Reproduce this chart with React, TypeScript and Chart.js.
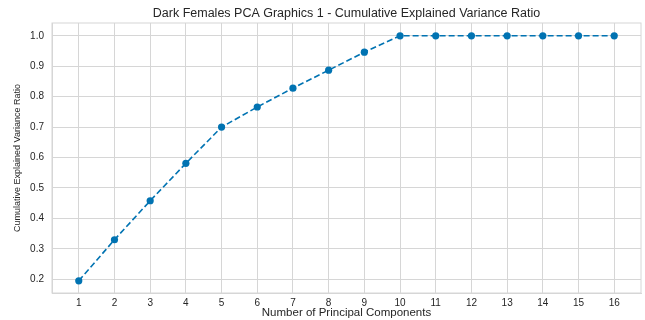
import React, { useEffect, useRef } from "react";
import { Chart, registerables } from "chart.js";

Chart.register(...registerables);

const components = [1, 2, 3, 4, 5, 6, 7, 8, 9, 10, 11, 12, 13, 14, 15, 16];
const cumulativeRatio = [0.195, 0.33, 0.458, 0.581, 0.7, 0.766, 0.828, 0.887, 0.946, 1.0, 1.0, 1.0, 1.0, 1.0, 1.0, 1.0];
const yTicks = [0.2, 0.3, 0.4, 0.5, 0.6, 0.7, 0.8, 0.9, 1.0];

const TITLE = "Dark Females PCA Graphics 1 - Cumulative Explained Variance Ratio";
const X_TITLE = "Number of Principal Components";
const Y_TITLE = "Cumulative Explained Variance Ratio";

const FONT = "'Liberation Sans', Arial, sans-serif";
const TEXT = "#262626";
const GRID = "#d6d6d6";
const BLUE = "#0173B2";

const frame = {
  id: "frame",
  afterDraw(chart: any) {
    const { ctx, chartArea } = chart;
    ctx.save();
    ctx.strokeStyle = GRID;
    ctx.lineWidth = 1;
    ctx.strokeRect(chartArea.left, chartArea.top, chartArea.right - chartArea.left, chartArea.bottom - chartArea.top);
    ctx.restore();
  },
};

export default function App() {
  const ref = useRef<HTMLCanvasElement>(null);
  useEffect(() => {
    document.body.style.margin = "0";
    const chart = new Chart(ref.current!, {
      type: "line",
      data: {
        datasets: [
          {
            data: components.map((c, i) => ({ x: c, y: cumulativeRatio[i] })),
            xAxisID: "x",
            yAxisID: "y",
            borderColor: BLUE,
            backgroundColor: BLUE,
            borderWidth: 1.6,
            borderDash: [6, 3],
            pointRadius: 3.6,
            pointBorderWidth: 0,
            pointBackgroundColor: BLUE,
            tension: 0,
          },
        ],
      },
      plugins: [frame],
      options: {
        animation: false,
        responsive: false,
        devicePixelRatio: 1,
        layout: { padding: { left: 0, right: 2, top: 0, bottom: 0 } },
        plugins: {
          legend: { display: false },
          tooltip: { enabled: false },
          title: { display: false },
        },
        scales: {
          x: {
            type: "linear",
            position: "bottom",
            min: 0.25,
            max: 16.75,
            afterBuildTicks: (s: any) => {
              s.ticks = components.map((v) => ({ value: v }));
            },
            afterFit: (s: any) => {
              s.height = 27;
            },
            grid: { color: GRID, drawTicks: false, lineWidth: 1 },
            border: { display: true, color: GRID },
            ticks: {
              color: TEXT,
              font: { family: FONT, size: 10 },
              padding: 4,
              maxRotation: 0,
              autoSkip: false,
              callback: (v: any) => String(v),
            },
            title: {
              display: true,
              text: X_TITLE,
              color: TEXT,
              font: { family: FONT, size: 11.5 },
              padding: { top: 0, bottom: 0 },
            },
          },
          titleAxis: {
            type: "linear",
            position: "top",
            min: 0.25,
            max: 16.75,
            afterFit: (s: any) => {
              s.height = 23;
            },
            grid: { display: false, drawTicks: false },
            border: { display: false },
            ticks: { display: false },
            title: {
              display: true,
              text: TITLE,
              color: TEXT,
              font: { family: FONT, size: 12.5 },
              padding: { top: 6, bottom: 0 },
            },
          },
          y: {
            type: "linear",
            min: 0.155,
            max: 1.042,
            afterBuildTicks: (s: any) => {
              s.ticks = yTicks.map((v) => ({ value: v }));
            },
            afterFit: (s: any) => {
              s.width = 52;
            },
            grid: { color: GRID, drawTicks: false, lineWidth: 1 },
            border: { display: true, color: GRID },
            ticks: {
              color: TEXT,
              font: { family: FONT, size: 10 },
              padding: 8,
              callback: (v: any) => Number(v).toFixed(1),
            },
            title: {
              display: true,
              text: Y_TITLE,
              color: TEXT,
              font: { family: FONT, size: 9 },
              padding: { top: 12.6, bottom: 0 },
            },
          },
        },
      },
    } as any);
    return () => chart.destroy();
  }, []);
  return (
    <div style={{ position: "fixed", left: 0, top: 0, width: 645, height: 320, background: "#fff" }}>
      <canvas ref={ref} width={645} height={320} style={{ width: 645, height: 320, display: "block" }} />
    </div>
  );
}
